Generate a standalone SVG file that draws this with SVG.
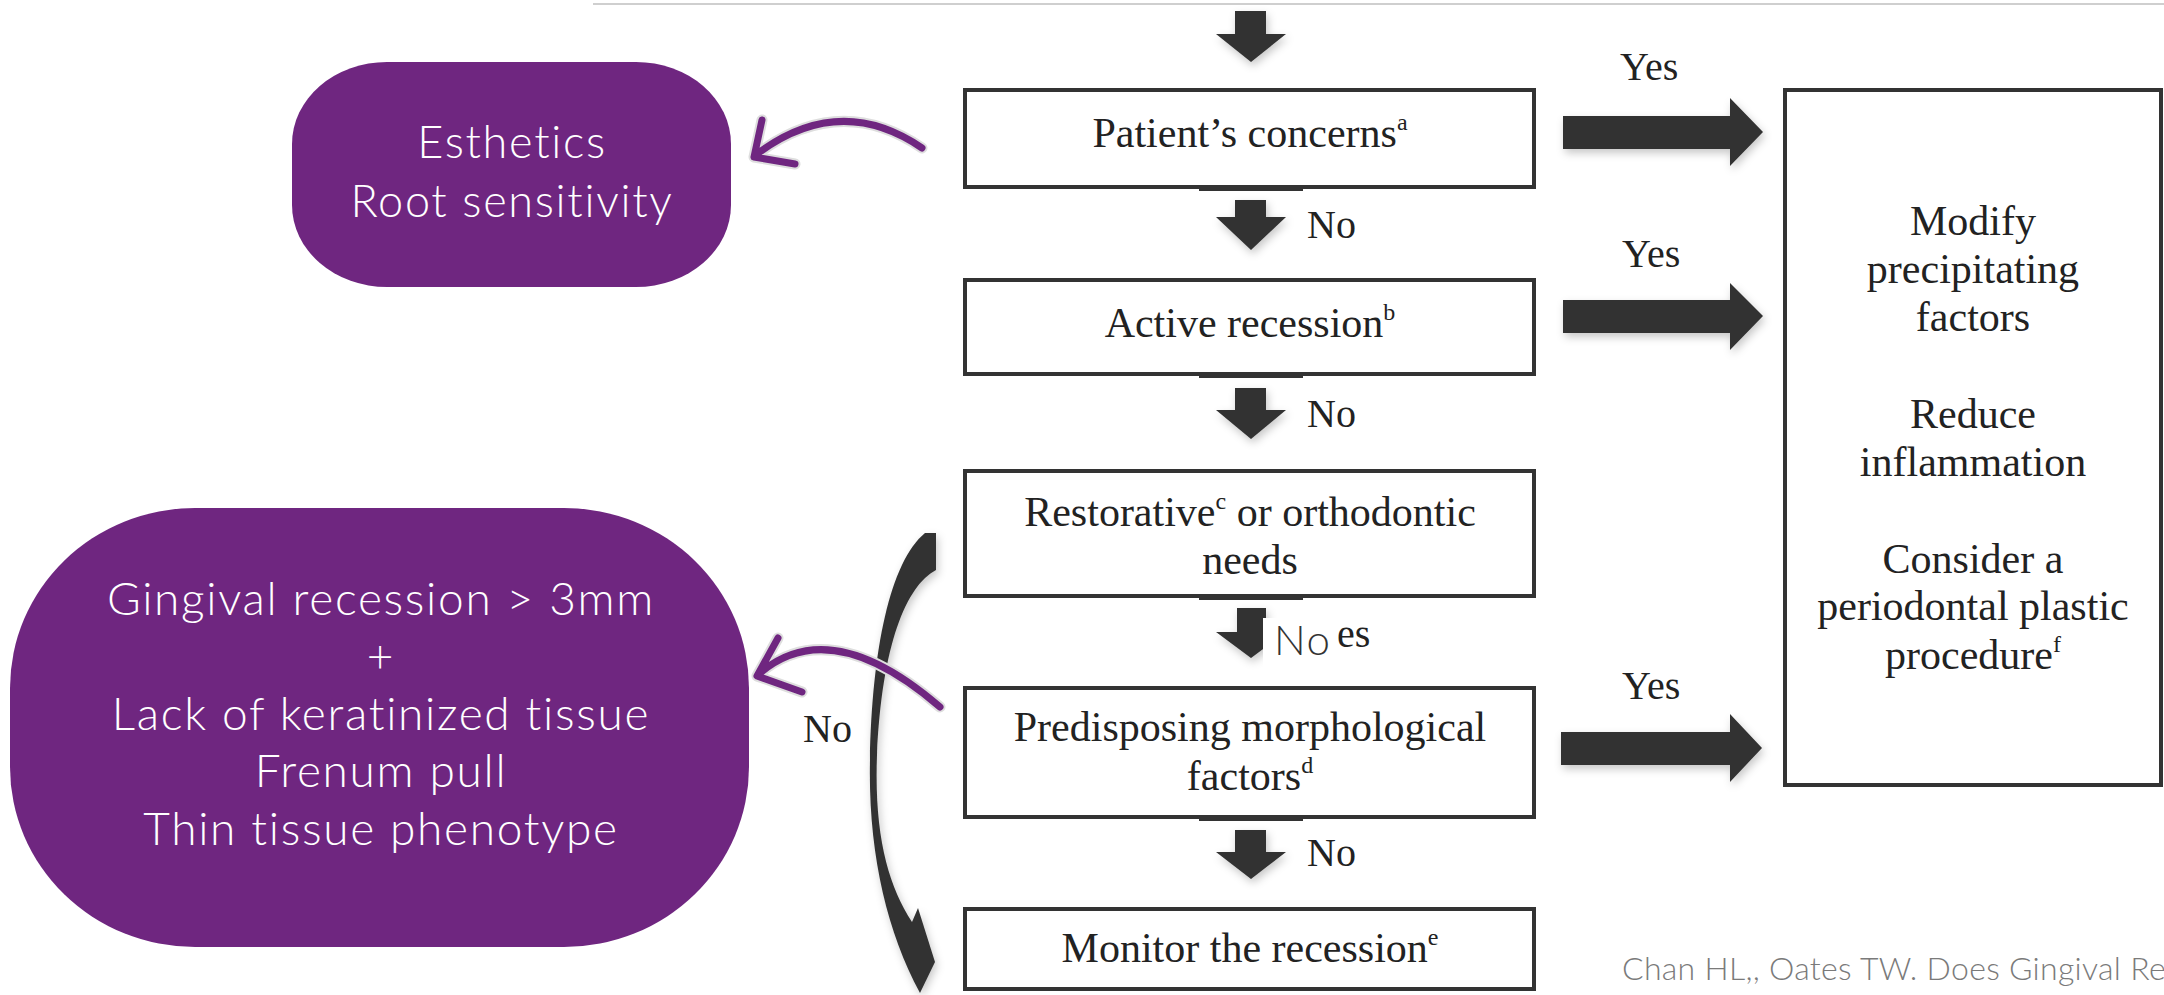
<svg xmlns="http://www.w3.org/2000/svg" width="2164" height="995" viewBox="0 0 2164 995">
<defs>
<style>
.box{fill:#fff;stroke:#333;stroke-width:4}
.t{font-family:"Liberation Serif","Times New Roman",serif;font-size:42px;fill:#222;text-anchor:middle}
.lbl{font-family:"Liberation Serif","Times New Roman",serif;font-size:40px;fill:#222}
.sup{font-size:24px}
.pbox{fill:#6f2680}
.pt{font-family:Lato,"Open Sans",sans-serif;font-weight:300;fill:#fff;text-anchor:middle;letter-spacing:1.7px}
.arr{fill:#333}
.pa{fill:none;stroke:#6f2680;stroke-width:7;stroke-linecap:round;stroke-linejoin:round}
.halo{fill:none;stroke:#dedede;stroke-width:11;stroke-linecap:round;stroke-linejoin:round}
.stub{fill:#333}
</style>
<filter id="sh" x="-20%" y="-20%" width="150%" height="150%"><feDropShadow dx="2" dy="4" stdDeviation="4" flood-color="#000" flood-opacity="0.22"/></filter>
</defs>
<rect width="2164" height="995" fill="#fff"/>
<line x1="593" y1="4" x2="2164" y2="4" stroke="#cfcfcf" stroke-width="2"/>

<g id="esthetics">
<rect class="pbox" x="292" y="62" width="439" height="225" rx="95" ry="82"/>
<text class="pt" x="512" y="158" font-size="45">Esthetics</text>
<text class="pt" x="512" y="217" font-size="45">Root sensitivity</text>
</g>

<g id="gingival">
<rect class="pbox" x="10" y="508" width="739" height="439" rx="185" ry="180"/>
<text class="pt" font-size="46" x="381" y="615">Gingival recession &gt; 3mm</text>
<text class="pt" font-size="46" x="381" y="672">+</text>
<text class="pt" font-size="46" x="381" y="730">Lack of keratinized tissue</text>
<text class="pt" font-size="46" x="381" y="787">Frenum pull</text>
<text class="pt" font-size="46" x="381" y="845">Thin tissue phenotype</text>
</g>

<g id="patient-concerns">
<rect class="box" x="965" y="90" width="569" height="97"/>
<rect class="stub" x="1199" y="187" width="104" height="4"/>
<text class="t" x="1250" y="147">Patient’s concerns<tspan class="sup" dy="-17">a</tspan></text>
</g>

<g id="active-recession">
<rect class="box" x="965" y="280" width="569" height="94"/>
<rect class="stub" x="1199" y="374" width="104" height="4"/>
<text class="t" x="1250" y="337">Active recession<tspan class="sup" dy="-17">b</tspan></text>
</g>

<g id="restorative">
<rect class="box" x="965" y="471" width="569" height="125"/>
<rect class="stub" x="1199" y="596" width="104" height="4"/>
<text class="t" x="1250" y="526">Restorative<tspan class="sup" dy="-17">c</tspan><tspan dy="17"> or orthodontic</tspan></text>
<text class="t" x="1250" y="574">needs</text>
</g>

<g id="predisposing">
<rect class="box" x="965" y="688" width="569" height="129"/>
<rect class="stub" x="1199" y="817" width="104" height="4"/>
<text class="t" x="1250" y="741">Predisposing morphological</text>
<text class="t" x="1250" y="790">factors<tspan class="sup" dy="-17">d</tspan></text>
</g>

<g id="monitor">
<rect class="box" x="965" y="909" width="569" height="80"/>
<text class="t" x="1250" y="962">Monitor the recession<tspan class="sup" dy="-17">e</tspan></text>
</g>

<g id="actions">
<rect class="box" x="1785" y="90" width="376" height="695"/>
<text class="t" x="1973" y="235">Modify</text>
<text class="t" x="1973" y="283">precipitating</text>
<text class="t" x="1973" y="331">factors</text>
<text class="t" x="1973" y="428">Reduce</text>
<text class="t" x="1973" y="476">inflammation</text>
<text class="t" x="1973" y="573">Consider a</text>
<text class="t" x="1973" y="620">periodontal plastic</text>
<text class="t" x="1973" y="669">procedure<tspan class="sup" dy="-17">f</tspan></text>
</g>

<g id="connectors">
<g filter="url(#sh)">
<polygon class="arr" points="1235,11 1266,11 1266,34 1286,34 1251,62 1216,34 1235,34"/>
<polygon class="arr" points="1235,200 1266,200 1266,217 1286,217 1251,250 1216,217 1235,217"/>
<polygon class="arr" points="1235,388 1266,388 1266,410 1286,410 1251,439 1216,410 1235,410"/>
<polygon class="arr" points="1237,608 1266,608 1266,632 1286,632 1251,658 1216,632 1237,632"/>
<polygon class="arr" points="1235,830 1266,830 1266,852 1286,852 1251,879 1216,852 1235,852"/>
<polygon class="arr" points="1563,116 1730,116 1730,98 1763,132 1730,166 1730,149 1563,149"/>
<polygon class="arr" points="1563,300 1730,300 1730,283 1763,316 1730,350 1730,333 1563,333"/>
<polygon class="arr" points="1561,732 1730,732 1730,714 1762,748 1730,782 1730,765 1561,765"/>
<path class="arr" d="M925,533 L936,533 L936,570 C906,586 882,645 877,755 C874,835 888,885 912,922 L918,908 L935,962 L920,993 C886,930 868,850 870,760 C872,650 890,562 925,533 Z"/>
</g>
<rect x="1263" y="618" width="74" height="50" fill="#fff"/>
<text class="lbl" x="1307" y="238">No</text>
<text class="lbl" x="1307" y="427">No</text>
<text class="lbl" x="1307" y="866">No</text>
<text x="1274" y="655" font-family="Lato,'Open Sans',sans-serif" font-weight="300" font-size="42" letter-spacing="1.5" fill="#333">No</text>
<text class="lbl" x="1337" y="647">es</text>
<text class="lbl" x="1620" y="80">Yes</text>
<text class="lbl" x="1622" y="267">Yes</text>
<text class="lbl" x="1622" y="699">Yes</text>
<text class="lbl" x="803" y="742">No</text>
<path class="halo" d="M922,148 Q840,92 757,154 M762,120 L754,157 L795,164"/>
<path class="pa" d="M922,148 Q840,92 757,154 M762,120 L754,157 L795,164"/>
<path class="halo" d="M940,707 Q831,613 760,673 M778,638 L757,676 L802,692"/>
<path class="pa" d="M940,707 Q831,613 760,673 M778,638 L757,676 L802,692"/>
</g>

<text x="1622" y="980" font-family="Lato,'Open Sans',sans-serif" font-weight="300" font-size="32" letter-spacing="0.3" fill="#7a7a7a">Chan HL,, Oates TW. Does Gingival Re</text>
</svg>
